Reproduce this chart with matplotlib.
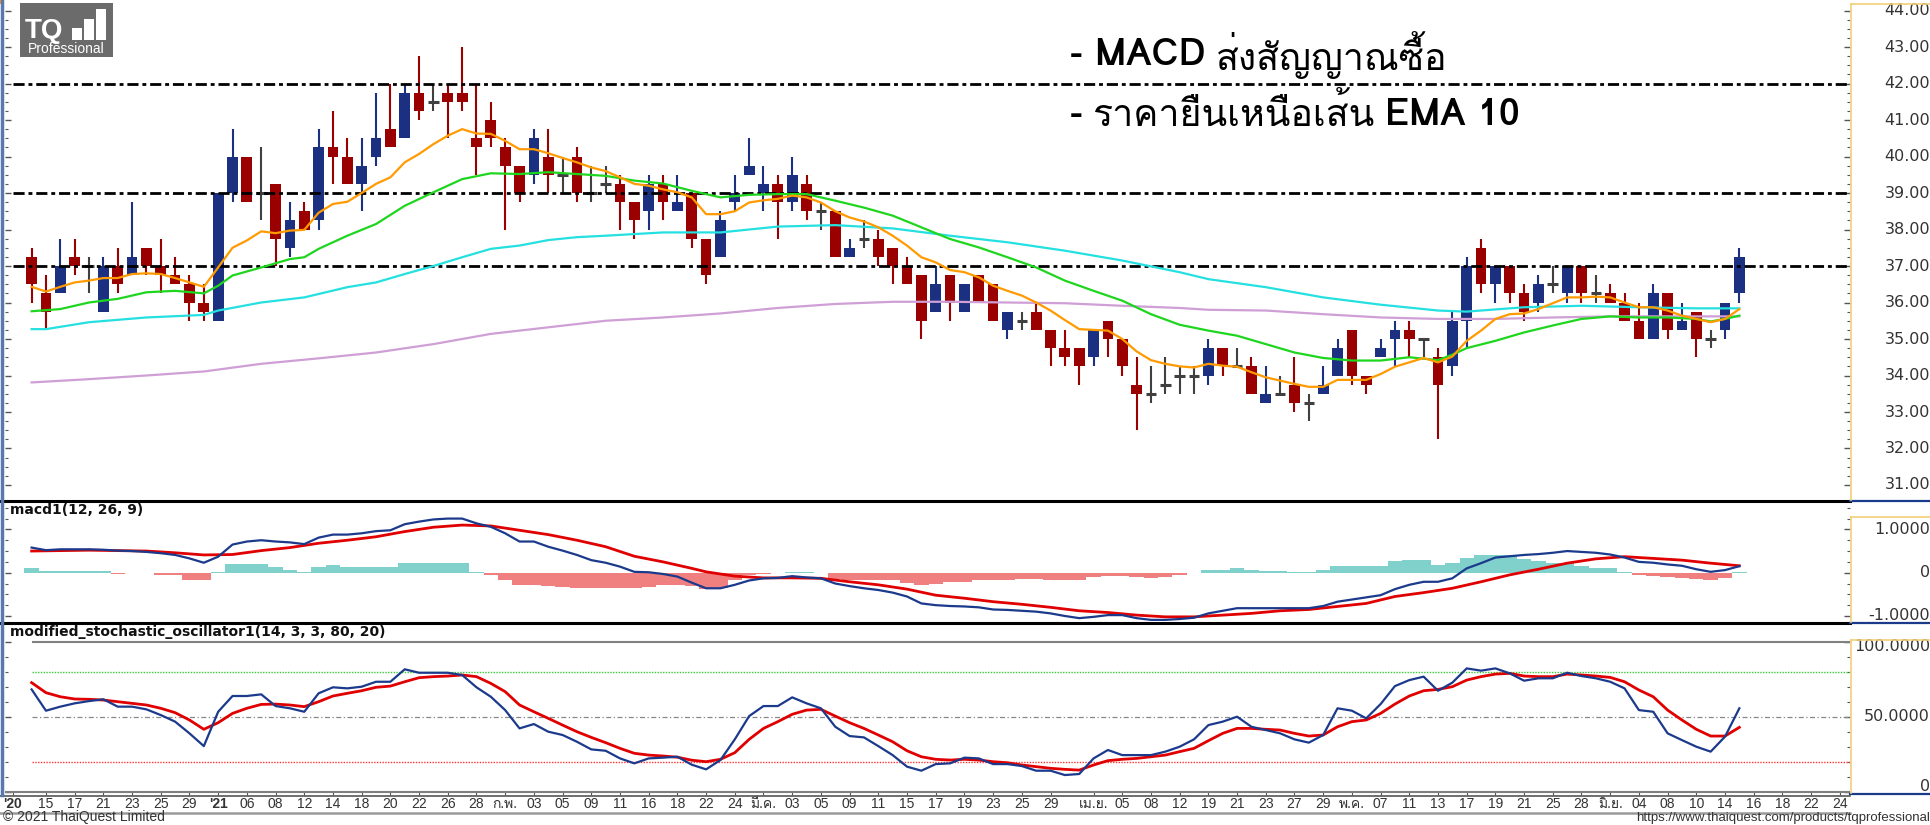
import matplotlib
matplotlib.use("Agg")
import matplotlib.pyplot as plt
from matplotlib import font_manager, ft2font
from matplotlib.patches import Rectangle
from matplotlib.lines import Line2D

W, H = 1931, 825

# ---------------- data ----------------
opens = [37.25, 36.25, 36.25, 37.25, 37.0, 35.75, 37.0, 36.75, 37.5, 37.0,
         36.75, 36.5, 36.0, 35.5, 39.0, 40.0, 39.0, 39.25, 37.5, 38.5,
         38.25, 40.25, 40.0, 39.25, 40.0, 40.75, 40.5, 41.75, 41.5, 41.75,
         41.75, 40.5, 41.0, 40.25, 39.75, 39.5, 40.0, 39.5, 40.0, 39.0,
         39.25, 39.25, 38.75, 38.5, 39.25, 38.5, 39.0, 37.75, 37.25, 38.75,
         39.5, 39.0, 39.25, 38.75, 39.25, 38.5, 38.5, 37.25, 37.75, 37.75,
         37.5, 37.0, 36.75, 35.75, 36.75, 35.75, 36.75, 36.5, 35.25, 35.5,
         35.75, 35.25, 34.75, 34.75, 34.5, 35.5, 35.0, 33.75, 33.5, 33.75,
         34.0, 34.0, 34.0, 34.75, 34.25, 34.25, 33.25, 33.5, 33.75, 33.25,
         33.5, 34.0, 35.25, 34.0, 34.5, 35.0, 35.25, 35.0, 34.5, 34.25,
         35.5, 37.5, 36.5, 37.0, 36.25, 36.0, 36.5, 36.25, 37.0, 36.25,
         36.25, 36.0, 35.5, 35.0, 36.25, 35.25, 35.75, 35.0, 35.25, 36.25]
highs = [37.5, 36.75, 37.75, 37.75, 37.25, 37.25, 37.5, 38.75, 37.5, 37.75,
         37.25, 36.75, 36.5, 39.0, 40.75, 40.0, 40.25, 39.25, 38.75, 38.75,
         40.75, 41.25, 40.5, 40.5, 41.75, 42.0, 42.0, 42.75, 42.0, 42.0,
         43.0, 42.0, 41.5, 40.5, 39.75, 40.75, 40.75, 40.0, 40.25, 39.75,
         39.75, 39.5, 38.75, 39.5, 39.5, 39.5, 39.0, 37.75, 38.5, 39.5,
         40.5, 39.75, 39.5, 40.0, 39.5, 38.75, 38.5, 37.75, 38.25, 38.0,
         37.5, 37.25, 36.75, 37.0, 36.75, 36.5, 36.75, 36.5, 35.75, 35.75,
         36.0, 35.25, 35.25, 34.75, 35.25, 35.5, 35.0, 34.5, 34.25, 34.5,
         34.25, 34.25, 35.0, 34.75, 34.75, 34.5, 34.25, 34.0, 34.5, 33.5,
         34.25, 35.0, 35.25, 34.0, 35.0, 35.5, 35.5, 35.0, 34.75, 35.75,
         37.25, 37.75, 37.0, 37.0, 36.5, 36.75, 37.0, 37.0, 37.0, 36.75,
         36.5, 36.25, 36.0, 36.5, 36.25, 36.0, 35.75, 35.25, 36.0, 37.5]
lows = [36.0, 35.25, 36.25, 36.75, 36.25, 35.75, 36.25, 36.75, 36.75, 36.25,
        36.5, 35.5, 35.5, 35.5, 38.75, 38.75, 38.25, 37.0, 37.25, 38.0,
        38.0, 39.25, 39.25, 38.5, 39.75, 40.25, 40.5, 41.0, 41.25, 40.5,
        41.25, 39.5, 40.25, 38.0, 38.75, 39.25, 39.0, 39.0, 38.75, 38.75,
        39.0, 38.0, 37.75, 38.0, 38.25, 38.5, 37.5, 36.5, 37.25, 38.5,
        39.5, 38.5, 37.75, 38.5, 38.25, 38.0, 37.25, 37.25, 37.5, 37.0,
        36.5, 36.5, 35.0, 35.75, 35.5, 35.75, 36.0, 35.5, 35.0, 35.25,
        35.25, 34.25, 34.25, 33.75, 34.25, 34.5, 34.0, 32.5, 33.25, 33.5,
        33.5, 33.5, 33.75, 34.0, 34.25, 33.5, 33.25, 33.5, 33.0, 32.75,
        33.5, 34.0, 33.75, 33.5, 34.5, 34.25, 34.5, 34.5, 32.25, 34.0,
        34.75, 36.25, 36.0, 36.0, 35.5, 35.75, 36.25, 36.0, 36.0, 36.0,
        36.0, 35.5, 35.0, 35.0, 35.0, 35.25, 34.5, 34.75, 35.0, 36.0]
closes = [36.5, 35.75, 37.0, 37.0, 37.0, 37.0, 36.5, 37.25, 37.0, 36.75,
          36.5, 36.0, 35.75, 39.0, 40.0, 38.75, 39.0, 37.75, 38.25, 38.0,
          40.25, 40.0, 39.25, 39.75, 40.5, 40.25, 41.75, 41.25, 41.5, 41.5,
          41.5, 40.25, 40.5, 39.75, 39.0, 40.5, 39.5, 39.5, 39.0, 39.0,
          39.25, 38.75, 38.25, 39.25, 38.75, 38.75, 37.75, 36.75, 38.25, 39.0,
          39.75, 39.25, 38.75, 39.5, 38.5, 38.5, 37.25, 37.5, 37.75, 37.25,
          37.0, 36.5, 35.5, 36.5, 36.0, 36.5, 36.0, 35.5, 35.75, 35.5,
          35.25, 34.75, 34.5, 34.25, 35.25, 35.0, 34.25, 33.5, 33.5, 33.75,
          34.0, 34.0, 34.75, 34.25, 34.25, 33.5, 33.5, 33.5, 33.25, 33.25,
          33.75, 34.75, 34.0, 33.75, 34.75, 35.25, 35.0, 35.0, 33.75, 35.5,
          37.0, 36.5, 37.0, 36.25, 35.75, 36.5, 36.5, 37.0, 36.25, 36.25,
          36.0, 35.5, 35.0, 36.25, 35.25, 35.5, 35.0, 35.0, 36.0, 37.25]

ema10 = [36.43, 36.3, 36.43, 36.55, 36.6, 36.67, 36.67, 36.78, 36.8, 36.78,
         36.67, 36.55, 36.43, 36.96, 37.5, 37.7, 37.95, 37.9, 37.97, 37.99,
         38.46, 38.7, 38.76, 39.0, 39.25, 39.43, 39.84, 40.07, 40.34, 40.57,
         40.75, 40.63, 40.62, 40.43, 40.2, 40.2, 40.09, 39.96, 39.84, 39.7,
         39.6, 39.43, 39.25, 39.2, 39.1, 39.02, 38.88, 38.42, 38.42, 38.5,
         38.74, 38.8, 38.84, 38.93, 38.88, 38.74, 38.5, 38.33, 38.22, 38.06,
         37.83, 37.56, 37.24, 37.1, 36.89, 36.83, 36.69, 36.46, 36.32, 36.19,
         36.0, 35.78, 35.52, 35.27, 35.25, 35.23, 35.0, 34.66, 34.42, 34.32,
         34.25, 34.22, 34.32, 34.27, 34.24, 34.09, 33.95, 33.86, 33.77, 33.69,
         33.69, 33.88, 33.88, 33.88, 34.04, 34.24, 34.36, 34.48, 34.36, 34.52,
         34.95, 35.23, 35.55, 35.68, 35.7, 35.82, 35.98, 36.14, 36.14, 36.16,
         36.14, 36.0, 35.87, 35.87, 35.78, 35.64, 35.55, 35.46, 35.55, 35.82]

green_idx = [0, 2, 4, 6, 8, 10, 12, 13, 14, 16, 18, 19, 20, 22, 24, 26, 28, 30, 32, 34,
             36, 38, 40, 42, 44, 46, 48, 50, 52, 54, 56, 58, 60, 62, 64, 66, 68, 70, 72, 74,
             76, 78, 80, 82, 84, 86, 88, 90, 92, 94, 96, 98, 99, 100, 102, 104, 106, 108, 110, 112,
             114, 116, 117, 118, 119]
green_ma = [35.76, 35.82, 36.0, 36.1, 36.28, 36.32, 36.25, 36.46, 36.74, 36.96,
            37.19, 37.24, 37.47, 37.83, 38.15, 38.65, 39.02, 39.38, 39.54, 39.52,
            39.57, 39.52, 39.47, 39.34, 39.26, 39.06, 38.88, 38.95, 38.97, 38.97,
            38.79, 38.6, 38.38, 38.06, 37.74, 37.51, 37.24, 36.96, 36.6, 36.32,
            36.05, 35.68, 35.39, 35.23, 35.09, 34.86, 34.63, 34.48, 34.41, 34.41,
            34.5, 34.42, 34.57, 34.75, 34.95, 35.18, 35.37, 35.55, 35.62, 35.59,
            35.59, 35.55, 35.48, 35.55, 35.64]

cyan_idx = [0, 1, 4, 8, 12, 13, 16, 19, 22, 24, 26, 28, 30, 32, 34, 36, 38, 40, 44, 48,
            52, 56, 60, 64, 68, 72, 76, 80, 82, 86, 90, 94, 98, 100, 104, 108, 112, 116, 119]
cyan_ma = [35.27, 35.27, 35.46, 35.59, 35.66, 35.78, 36.0, 36.14, 36.42, 36.55,
           36.78, 37.0, 37.24, 37.47, 37.56, 37.71, 37.79, 37.83, 37.92, 37.92,
           38.08, 38.12, 38.03, 37.83, 37.65, 37.42, 37.15, 36.83, 36.64, 36.42,
           36.14, 35.94, 35.78, 35.75, 35.87, 35.91, 35.87, 35.84, 35.84]

purple_idx = [0, 4, 8, 12, 16, 20, 24, 28, 32, 36, 40, 44, 48, 52, 56, 60, 64, 68, 72, 76,
              80, 82, 86, 90, 94, 98, 102, 106, 110, 114, 119]
purple_ma = [33.81, 33.9, 34.0, 34.11, 34.32, 34.47, 34.63, 34.86, 35.14, 35.32,
             35.5, 35.59, 35.7, 35.85, 35.96, 36.02, 36.02, 36.0, 35.98, 35.91,
             35.85, 35.8, 35.78, 35.68, 35.59, 35.55, 35.55, 35.59, 35.62, 35.62, 35.62]

levels = [42.0, 39.0, 37.0]

macd = [0.58, 0.52, 0.54, 0.54, 0.54, 0.53, 0.51, 0.5, 0.48, 0.45,
        0.41, 0.33, 0.23, 0.37, 0.65, 0.72, 0.75, 0.72, 0.7, 0.66,
        0.81, 0.88, 0.88, 0.91, 0.96, 0.98, 1.12, 1.18, 1.23, 1.25,
        1.25, 1.14, 1.06, 0.91, 0.72, 0.72, 0.6, 0.51, 0.41, 0.29,
        0.23, 0.14, 0.02, 0.01, -0.03, -0.09, -0.23, -0.36, -0.36, -0.28,
        -0.18, -0.13, -0.12, -0.08, -0.11, -0.13, -0.25, -0.31, -0.36, -0.4,
        -0.46, -0.55, -0.71, -0.75, -0.77, -0.78, -0.8, -0.85, -0.86, -0.88,
        -0.9, -0.94, -1.0, -1.05, -1.02, -0.98, -0.98, -1.05, -1.09, -1.09,
        -1.07, -1.04, -0.94, -0.88, -0.82, -0.82, -0.82, -0.82, -0.82, -0.82,
        -0.77, -0.67, -0.62, -0.57, -0.52, -0.38, -0.28, -0.21, -0.21, -0.13,
        0.1, 0.22, 0.35, 0.38, 0.41, 0.43, 0.46, 0.5, 0.48, 0.46,
        0.42, 0.35, 0.25, 0.23, 0.19, 0.16, 0.08, 0.02, 0.06, 0.15]

signal_idx = [0, 4, 8, 10, 12, 14, 16, 18, 20, 22, 24, 26, 28, 30, 32, 34, 36, 38, 40, 42,
              44, 46, 47, 49, 51, 53, 55, 57, 59, 61, 63, 65, 67, 69, 71, 73, 75, 77, 79, 81,
              83, 85, 87, 89, 91, 93, 95, 97, 99, 101, 103, 105, 107, 109, 111, 113, 115, 117, 119]
signal = [0.5, 0.52, 0.5, 0.46, 0.41, 0.42, 0.51, 0.58, 0.68, 0.75,
          0.83, 0.95, 1.05, 1.1, 1.08, 0.98, 0.88, 0.75, 0.6, 0.38,
          0.25, 0.1, 0.02, -0.08, -0.12, -0.12, -0.13, -0.21, -0.28, -0.38,
          -0.52, -0.59, -0.67, -0.73, -0.8, -0.88, -0.92, -0.98, -1.02, -1.02,
          -0.98, -0.94, -0.88, -0.85, -0.78, -0.71, -0.55, -0.46, -0.36, -0.21,
          -0.05, 0.08, 0.22, 0.32, 0.37, 0.33, 0.29, 0.22, 0.16]

hist = [0.1, 0.04, 0.04, 0.04, 0.04, 0.03, -0.02, 0.0, 0.0, -0.05,
        -0.05, -0.17, -0.17, 0.02, 0.19, 0.19, 0.19, 0.12, 0.06, 0.02,
        0.12, 0.18, 0.14, 0.14, 0.14, 0.14, 0.22, 0.22, 0.22, 0.22,
        0.22, 0.02, -0.05, -0.17, -0.28, -0.28, -0.31, -0.34, -0.36, -0.36,
        -0.36, -0.36, -0.36, -0.32, -0.28, -0.28, -0.31, -0.38, -0.36, -0.17,
        -0.05, -0.03, 0.0, 0.02, 0.02, 0.0, -0.15, -0.17, -0.17, -0.18,
        -0.18, -0.23, -0.28, -0.25, -0.21, -0.21, -0.18, -0.18, -0.17, -0.15,
        -0.15, -0.17, -0.17, -0.17, -0.11, -0.08, -0.08, -0.09, -0.12, -0.09,
        -0.05, 0.0, 0.06, 0.06, 0.1, 0.06, 0.05, 0.05, 0.02, 0.02,
        0.06, 0.16, 0.16, 0.16, 0.16, 0.27, 0.29, 0.29, 0.18, 0.23,
        0.35, 0.41, 0.41, 0.41, 0.31, 0.27, 0.23, 0.22, 0.15, 0.1,
        0.1, 0.02, -0.05, -0.08, -0.11, -0.13, -0.15, -0.17, -0.13, 0.01]

stoch_k = [68.2, 54, 56.7, 58.9, 60.4, 61.6, 56.7, 56.7, 54.9, 51.1,
           46.7, 38.9, 30.4, 53.3, 63.8, 63.8, 64.9, 57.1, 55.6, 53.3,
           65.6, 69.6, 68.9, 70, 73.3, 73.3, 81.6, 79.3, 79.3, 79.3,
           77.8, 69.6, 63.3, 54.4, 42.2, 45.1, 40, 37.8, 33.3, 28.2,
           27.3, 22.2, 18.9, 22.2, 22.7, 23.3, 18, 14.9, 21.1, 34.9,
           50.4, 57.1, 57.1, 62.9, 58.9, 55.6, 43.3, 37.1, 36.2, 30.4,
           24.4, 16.7, 14, 18.4, 18.9, 22.7, 22.2, 18.4, 18.4, 17.1,
           14, 14, 11.1, 11.8, 22.2, 27.8, 24.4, 24.4, 24.4, 26.7,
           30, 34.9, 44.4, 46.7, 50, 43.3, 41.1, 38.9, 34.9, 32.7,
           37.8, 55.6, 54, 48.9, 58.4, 70.4, 74.4, 76.7, 67.3, 72.7,
           82.2, 80.7, 82.2, 78.9, 74, 75.6, 75.6, 79.3, 77.1, 75.6,
           73.3, 68.9, 54.4, 53.3, 38.9, 34.4, 30, 26.7, 36.7, 55.6]
stoch_d = [72.7, 66, 63.3, 61.8, 61.6, 61.1, 60, 58.9, 57.8, 55.6,
           52.7, 47.8, 41.6, 46, 52.2, 55.6, 58.2, 58.4, 57.8, 56.7,
           60, 63.8, 65.6, 67.3, 69.6, 70.4, 73.3, 76, 76.7, 77.1,
           77.8, 76.7, 72.2, 66.7, 57.8, 53.3, 48.9, 44.4, 40, 36.2,
           32.7, 28.9, 25.6, 24.4, 23.8, 23, 21, 20, 21.6, 26,
           34.9, 42.2, 46.7, 51.6, 54.4, 54.9, 50.4, 46, 42.2, 37.8,
           33.3, 27.3, 23.3, 21.6, 21.1, 21.6, 21.1, 20, 19.3, 17.8,
           16.7, 15.6, 14.9, 14.4, 17.8, 20.7, 21.6, 22.2, 23.3, 24.4,
           26.7, 28.9, 34, 38.9, 42.2, 42.2, 41.6, 41.1, 38.9, 37.1,
           37.8, 43.3, 46.7, 47.8, 52.2, 58.4, 63.8, 67.3, 68.2, 70,
           74.4, 76.7, 78.4, 78.9, 77.1, 76.7, 76.7, 78.4, 77.8, 77.1,
           76.2, 73.3, 67.8, 63.3, 54.4, 47.8, 41.6, 37.1, 37.1, 42.9]

date_pos = [-1.3, 1, 3, 5, 7, 9, 11, 13, 15, 17, 19, 21, 23, 25, 27, 29, 31, 33, 35, 37,
            39, 41, 43, 45, 47, 49, 51, 53, 55, 57, 59, 61, 63, 65, 67, 69, 71, 74, 76, 78,
            80, 82, 84, 86, 88, 90, 92, 94, 96, 98, 100, 102, 104, 106, 108, 110, 112, 114, 116, 118,
            120, 122, 124, 126]
date_lbl = ["'20", "15", "17", "21", "23", "25", "29", "'21", "06", "08", "12", "14", "18", "20",
            "22", "26", "28", "ก.พ.", "03", "05", "09", "11", "16", "18", "22", "24", "มี.ค.",
            "03", "05", "09", "11", "15", "17", "19", "23", "25", "29", "เม.ย.", "05", "08",
            "12", "19", "21", "23", "27", "29", "พ.ค.", "07", "11", "13", "17", "19", "21",
            "25", "28", "มิ.ย.", "04", "08", "10", "14", "16", "18", "22", "24"]

# ---------------- fonts ----------------
# pick an installed family that has Thai glyphs (Loma looks closest to the original)
thai_fonts = []
for f in font_manager.fontManager.ttflist:
    try:
        cmap = ft2font.FT2Font(f.fname).get_charmap()
    except Exception:
        continue
    if 0x0E2A in cmap and f.name not in thai_fonts:
        thai_fonts.append(f.name)
thai = "Loma" if "Loma" in thai_fonts else (thai_fonts[0] if thai_fonts else "DejaVu Sans")
plt.rcParams["font.family"] = ["Liberation Sans", thai, "DejaVu Sans"]


def fx(x):
    return x / W


def fy(y):
    return 1 - y / H


fig = plt.figure(figsize=(W / 100, H / 100), dpi=100)
fig.patch.set_facecolor("white")

xl = (-1.854, 126.71)
ax = fig.add_axes([fx(5), fy(500), 1845 / W, 500 / H])
axm = fig.add_axes([fx(5), fy(622), 1845 / W, 120 / H])
axs = fig.add_axes([fx(5), fy(795), 1845 / W, 171 / H])

for a in (ax, axm, axs):
    a.set_xlim(*xl)
    for s in a.spines.values():
        s.set_visible(False)
    a.tick_params(axis="x", which="both", bottom=False, labelbottom=False)
    a.tick_params(axis="y", which="both", left=True, right=True, labelleft=False,
                  labelright=False, direction="in", color="#555555")
    a.tick_params(axis="y", which="major", length=4, width=1)
    a.tick_params(axis="y", which="minor", length=2, width=0.8)

lab_font = dict(family=["DejaVu Sans"], fontsize=11.5, color="#333333")
xr = (1930 - 5) / 1845

# ---- main price panel ----
ax.set_ylim(30.589, 44.288)
ax.set_yticks(range(31, 45))
ax.set_yticks([31 + 0.25 * k for k in range(53)], minor=True)
up_c, dn_c, dj_c = "#1b3080", "#9a0000", "#404040"
for i in range(len(opens)):
    o, h, l, c = opens[i], highs[i], lows[i], closes[i]
    col = up_c if c > o else (dn_c if c < o else dj_c)
    ax.vlines(i, l, h, color=col, lw=1.5, zorder=2)
    if c == o:
        ax.hlines(o, i - 0.37, i + 0.37, color=col, lw=2.2, zorder=3)
    else:
        ax.bar(i, abs(c - o), bottom=min(o, c), width=0.75, color=col, lw=0, zorder=3)

ax.hlines(levels, -1.3, xl[1], colors="black", lw=2.0,
          linestyles=[(0, (4, 1.4, 1.4, 1.4))], zorder=4)
ax.plot(purple_idx, purple_ma, color="#cf9fd6", lw=1.6, zorder=5)
ax.plot(cyan_idx, cyan_ma, color="#25e0e0", lw=1.6, zorder=5)
ax.plot(green_idx, green_ma, color="#1fd61f", lw=1.6, zorder=5)
ax.plot(range(len(ema10)), ema10, color="#ff9a00", lw=1.6, zorder=6)

for v in range(31, 45):
    ax.text(xr, v, f"{v:.2f}", transform=ax.get_yaxis_transform(), ha="right",
            va="center", clip_on=False, **lab_font)

# ---- MACD panel ----
axm.set_ylim(-1.139, 1.633)
axm.set_yticks([-1, 0, 1])
axm.set_yticks([-1 + 0.25 * k for k in range(11)], minor=True)
hcol = ["#80d0cc" if v >= 0 else "#f08080" for v in hist]
axm.bar(range(len(hist)), hist, width=1.0, color=hcol, lw=0, zorder=2)
axm.plot(range(len(macd)), macd, color="#1c3a8c", lw=1.6, zorder=4)
axm.plot(signal_idx, signal, color="#e00000", lw=2.0, zorder=3)
for v, lab in [(1, "1.0000"), (0, "0"), (-1, "-1.0000")]:
    axm.text(xr, v, lab, transform=axm.get_yaxis_transform(), ha="right",
             va="center", clip_on=False, **lab_font)
fig.text(fx(10), fy(510), "macd1(12, 26, 9)", fontsize=10, fontweight="bold",
         family=["DejaVu Sans"], color="#111111", va="center")

# ---- stochastic panel ----
axs.set_ylim(-2.2, 111.8)
axs.set_yticks([0, 50, 100])
axs.set_yticks(range(0, 101, 10), minor=True)
axs.hlines([100], 0, xl[1], colors="#808080", lw=1.5)
axs.hlines([0], xl[0], xl[1], colors="#808080", lw=1.5)
axs.hlines([80], 0, xl[1], colors="#33cc33", lw=1.0, linestyles=[(0, (1, 1))])
axs.hlines([20], 0, xl[1], colors="#ff3333", lw=1.0, linestyles=[(0, (1, 1))])
axs.hlines([50], 0, xl[1], colors="#888888", lw=0.9, linestyles=[(0, (4, 2, 1, 2))])
axs.plot(range(len(stoch_d)), stoch_d, color="#e00000", lw=2.0, zorder=3)
axs.plot(range(len(stoch_k)), stoch_k, color="#1c3a8c", lw=1.6, zorder=4)
for v, lab, dy in [(100, "100.0000", -3.6), (50, "50.0000", 0), (0, "0", 4.1)]:
    axs.annotate(lab, xy=(xr, v), xycoords=axs.get_yaxis_transform(),
                 xytext=(0, dy), textcoords="offset points", ha="right", va="center",
                 annotation_clip=False, **lab_font)
fig.text(fx(10), fy(632), "modified_stochastic_oscillator1(14, 3, 3, 80, 20)",
         fontsize=10, fontweight="bold", family=["DejaVu Sans"], color="#111111", va="center")

axs.set_xticks(date_pos)
axs.set_xticklabels(date_lbl)
axs.tick_params(axis="x", which="major", bottom=True, labelbottom=True, direction="in",
                length=3, color="#555555", labelsize=10, labelcolor="#333333", pad=1.5)
for t in axs.get_xticklabels():
    if t.get_text().startswith("'"):
        t.set_fontweight("bold")


# ---- frame lines ----
def fline(x0, x1, y0, y1, color, lw, **kw):
    fig.add_artist(Line2D([fx(x0), fx(x1)], [fy(y0), fy(y1)], color=color, lw=lw, **kw))


fline(0, 1850, 500.5, 500.5, "black", 2.2)
fline(1850, 1931, 500.5, 500.5, "#1a3a8a", 1.6)
fline(0, 1850, 623, 623, "black", 2.2)
fline(1850, 1931, 622.5, 622.5, "#1a3a8a", 1.6)
fline(1850, 1931, 793.5, 793.5, "#1a3a8a", 1.6)
fline(0, 1850, 795.5, 795.5, "#555555", 1.2)
fline(0, 1850, 813, 813, "#9a9a9a", 1.8)
fline(2, 2, 0, 795, "#5a78b0", 2.5)
ylw = "#f2cf78"
fline(1851, 1851, 4, 500, ylw, 1.2)
fline(1851, 1931, 4, 4, ylw, 1.2)
fline(1851, 1851, 517, 622, ylw, 1.2)
fline(1851, 1931, 517, 517, ylw, 1.2)
fline(1851, 1851, 640, 793, ylw, 1.2)
fline(1851, 1931, 640, 640, ylw, 1.2)
fig.add_artist(Rectangle((0, fy(4)), fx(4), 4 / H, color="#ff9900", lw=0))

# ---- logo ----
fig.add_artist(Rectangle((fx(20), fy(57)), fx(93), 54 / H, color="#6b6b6b", lw=0))
fig.text(fx(25), fy(31), "TQ", fontsize=20, fontweight="bold", color="white", va="center",
         family=["Liberation Sans"])
for bx, top in [(72, 28), (84, 19), (96, 9)]:
    fig.add_artist(Rectangle((fx(bx), fy(40)), fx(10), (40 - top) / H, color="white", lw=0))
fig.text(fx(66.5), fy(49), "Professional", fontsize=10, color="white", va="center", ha="center")

# ---- annotation ----
ann_family = [thai, "Noto Sans", "DejaVu Sans"]
renderer = fig.canvas.get_renderer()


def chain(x_px, y_px, parts):
    x = x_px
    for s, wt in parts:
        t = fig.text(fx(x), fy(y_px), s, fontsize=27, fontweight=wt, va="center",
                     ha="left", family=ann_family, color="black")
        x += t.get_window_extent(renderer=renderer).width + 10


chain(1070, 55, [("- MACD", "bold"), ("ส่งสัญญาณซื้อ", "normal")])
chain(1070, 115, [("-", "bold"), ("ราคายืนเหนือเส้น", "normal"), ("EMA 10", "bold")])

# ---- footer ----
fig.text(fx(3), fy(824), "© 2021 ThaiQuest Limited", fontsize=10, color="#333333", va="bottom")
fig.text(fx(1930), fy(824), "https://www.thaiquest.com/products/tqprofessional", fontsize=9.5,
         color="#333333", va="bottom", ha="right")

fig.savefig("out.png", dpi=100)
